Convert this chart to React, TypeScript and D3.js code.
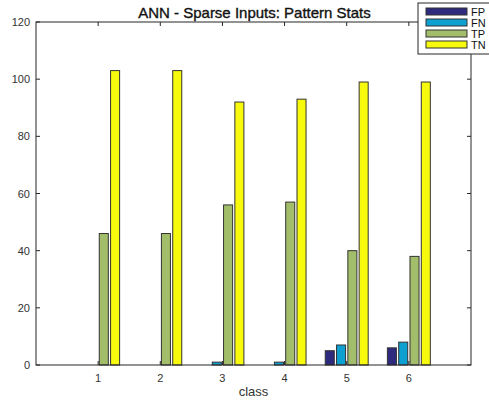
import { useEffect, useRef } from "react";
import * as d3 from "d3";

const classes = [1, 2, 3, 4, 5, 6];
const seriesNames = ["FP", "FN", "TP", "TN"];
const fpValues = [0, 0, 0, 0, 5, 6];
const fnValues = [0, 0, 1, 1, 7, 8];
const tpValues = [46, 46, 56, 57, 40, 38];
const tnValues = [103, 103, 92, 93, 99, 99];
const seriesColors = ["#2e2a7e", "#0fa0d2", "#a3be6a", "#f8fa0d"];
const yTicks = [0, 20, 40, 60, 80, 100, 120];

export default function App() {
  const svgRef = useRef<SVGSVGElement>(null);

  useEffect(() => {
    const width = 489;
    const height = 401;
    const margin = { top: 22, right: 18, bottom: 36, left: 36 };
    const innerW = width - margin.left - margin.right;
    const innerH = height - margin.top - margin.bottom;
    const font = "'Liberation Sans', Arial, sans-serif";

    const svg = d3.select(svgRef.current);
    svg.selectAll("*").remove();
    svg.attr("width", width).attr("height", height);

    const x = d3.scaleLinear().domain([0, 7]).range([0, innerW]);
    const y = d3.scaleLinear().domain([0, 120]).range([innerH, 0]);

    const series = [fpValues, fnValues, tpValues, tnValues];
    // matlab grouped bar layout: 4 bars, group width ~0.727
    const groupW = Math.min(0.8, 4 / 5.5);
    const slot = groupW / 4;
    const barW = slot * 0.8;

    const g = svg.append("g").attr("transform", `translate(${margin.left},${margin.top})`);

    g.append("rect")
      .attr("width", innerW)
      .attr("height", innerH)
      .attr("fill", "#fff");

    series.forEach((vals, si) => {
      const off = -groupW / 2 + slot * (si + 0.5);
      g.selectAll(`rect.s${si}`)
        .data(vals.map((v, i) => ({ v, c: classes[i] })).filter((d) => d.v > 0))
        .join("rect")
        .attr("class", `s${si}`)
        .attr("x", (d) => x(d.c + off - barW / 2))
        .attr("y", (d) => y(d.v))
        .attr("width", x(barW) - x(0))
        .attr("height", (d) => y(0) - y(d.v))
        .attr("fill", seriesColors[si])
        .attr("stroke", "#333")
        .attr("stroke-width", 1);
    });

    // box
    g.append("rect")
      .attr("width", innerW)
      .attr("height", innerH)
      .attr("fill", "none")
      .attr("stroke", "#262626")
      .attr("stroke-width", 1);

    const tickLen = 4;
    classes.forEach((c) => {
      g.append("line").attr("x1", x(c)).attr("x2", x(c)).attr("y1", innerH).attr("y2", innerH - tickLen).attr("stroke", "#262626");
      g.append("line").attr("x1", x(c)).attr("x2", x(c)).attr("y1", 0).attr("y2", tickLen).attr("stroke", "#262626");
      g.append("text")
        .attr("x", x(c))
        .attr("y", innerH + 17)
        .attr("text-anchor", "middle")
        .attr("font-family", font)
        .attr("font-size", 11)
        .attr("fill", "#333")
        .text(c);
    });
    yTicks.forEach((t) => {
      g.append("line").attr("x1", 0).attr("x2", tickLen).attr("y1", y(t)).attr("y2", y(t)).attr("stroke", "#262626");
      g.append("line").attr("x1", innerW).attr("x2", innerW - tickLen).attr("y1", y(t)).attr("y2", y(t)).attr("stroke", "#262626");
      g.append("text")
        .attr("x", -6)
        .attr("y", y(t) + 4)
        .attr("text-anchor", "end")
        .attr("font-family", font)
        .attr("font-size", 11)
        .attr("fill", "#333")
        .text(t);
    });

    g.append("text")
      .attr("x", innerW / 2)
      .attr("y", innerH + 31)
      .attr("text-anchor", "middle")
      .attr("font-family", font)
      .attr("font-size", 13)
      .attr("fill", "#333")
      .text("class");

    g.append("text")
      .attr("x", innerW / 2 + 1)
      .attr("y", -4)
      .attr("text-anchor", "middle")
      .attr("font-family", font)
      .attr("font-size", 15)
      .attr("fill", "#111")
      .attr("stroke", "#111")
      .attr("stroke-width", 0.35)
      .text("ANN - Sparse Inputs: Pattern Stats");

    // legend
    const lg = svg.append("g").attr("transform", "translate(418,3)");
    lg.append("rect")
      .attr("width", 80)
      .attr("height", 51)
      .attr("fill", "#fff")
      .attr("stroke", "#262626");
    seriesNames.forEach((name, i) => {
      const yy = 5 + i * 11;
      lg.append("rect")
        .attr("x", 8)
        .attr("y", yy)
        .attr("width", 41)
        .attr("height", 7)
        .attr("fill", seriesColors[i])
        .attr("stroke", "#333");
      lg.append("text")
        .attr("x", 53)
        .attr("y", yy + 8)
        .attr("font-family", font)
        .attr("font-size", 11)
        .attr("fill", "#111")
        .text(name);
    });
  }, []);

  return <svg ref={svgRef} style={{ position: "absolute", left: 0, top: 0 }} />;
}
